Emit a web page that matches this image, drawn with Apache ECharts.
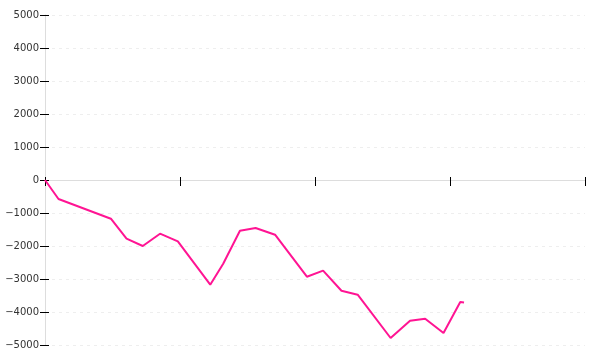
<!DOCTYPE html>
<html>
<head>
<meta charset="utf-8">
<script src="https://cdn.jsdelivr.net/npm/echarts@6/dist/echarts.min.js"></script>
<style>html,body{margin:0;padding:0;background:#fff}#c{width:600px;height:360px}</style>
</head>
<body>
<div id="c"></div>
<script>
// x positions (axis units 0..100) and y values
const xValues = [0, 2.5, 12.2, 15.1, 18.1, 21.3, 24.6, 30.6, 33.0, 36.1, 39.0, 42.6, 48.5, 51.5, 54.9, 57.9, 64.0, 67.6, 70.4, 73.8, 76.9, 77.6];
const yValues = [0, -576, -1173, -1779, -2000, -1627, -1861, -3173, -2540, -1536, -1455, -1658, -2930, -2745, -3355, -3476, -4788, -4264, -4203, -4636, -3697, -3709];
const xMin = 0, xMax = 100, xInterval = 25;
const yMin = -5000, yMax = 5000, yInterval = 1000;

const points = xValues.map((x, i) => [x, yValues[i]]);
const labelFont = 'DejaVu Sans';
const fmt = v => String(v).replace('-', '\u2212');

const chart = echarts.init(document.getElementById('c'), null, {renderer: 'canvas'});
chart.setOption({
  animation: false,
  backgroundColor: '#fff',
  grid: {left: 45, right: 15, top: 15, bottom: 15, containLabel: false},
  xAxis: [{
    type: 'value', min: xMin, max: xMax, interval: xInterval, position: 'bottom',
    axisLine: {show: true, onZero: true, lineStyle: {color: '#dddddd', width: 1}},
    axisTick: {show: true, inside: false, length: 6, lineStyle: {color: '#000', width: 1}},
    axisLabel: {show: false},
    splitLine: {show: false}
  }, {
    type: 'value', min: xMin, max: xMax, interval: xInterval, position: 'top',
    axisLine: {show: false, onZero: true},
    axisTick: {show: true, inside: false, length: 3, lineStyle: {color: '#000', width: 1}},
    axisLabel: {show: false},
    splitLine: {show: false}
  }],
  yAxis: [{
    type: 'value', min: yMin, max: yMax, interval: yInterval, position: 'left',
    axisLine: {show: true, onZero: false, lineStyle: {color: '#dddddd', width: 1}},
    axisTick: {show: true, inside: false, length: 5, lineStyle: {color: '#000', width: 1}},
    axisLabel: {show: true, margin: 6, color: '#333', fontFamily: labelFont, fontSize: 10, formatter: fmt},
    splitLine: {show: true, lineStyle: {color: '#eeeeee', width: 1, type: [3, 4]}}
  }, {
    type: 'value', min: yMin, max: yMax, interval: yInterval, position: 'right',
    axisLine: {show: false, onZero: true},
    axisTick: {show: true, inside: false, length: 4, lineStyle: {color: '#000', width: 1}},
    axisLabel: {show: false},
    splitLine: {show: false}
  }],
  series: [{
    type: 'line',
    xAxisIndex: 0, yAxisIndex: 0,
    data: points,
    showSymbol: false,
    symbol: 'none',
    lineStyle: {color: '#ff1493', width: 2},
    z: 3
  }]
});
</script>
</body>
</html>
